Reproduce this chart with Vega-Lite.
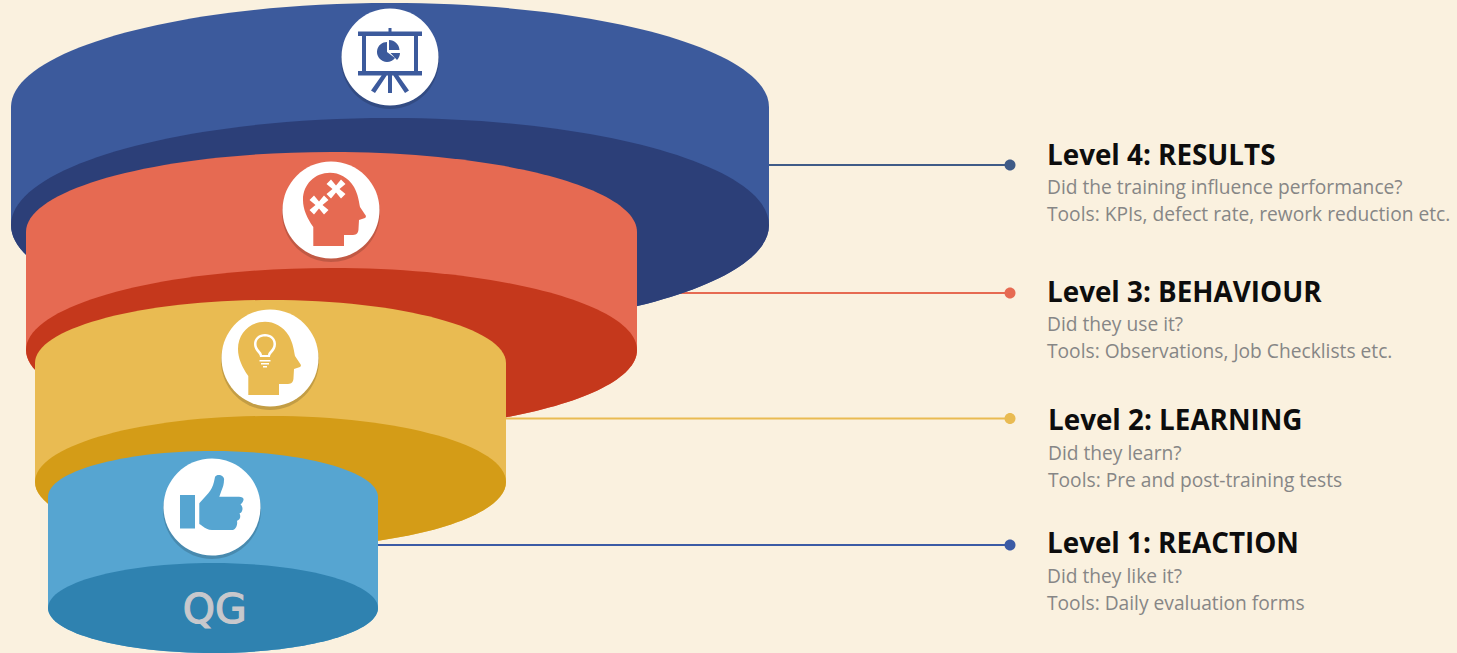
{
  "$schema": "https://vega.github.io/schema/vega-lite/v6.json",
  "width": 1457,
  "height": 653,
  "padding": 0,
  "autosize": {"type": "fit", "contains": "padding"},
  "background": "#faf1df",
  "config": {"view": {"stroke": null}},
  "datasets": {
    "connectors": [
      {"tone": "line results", "x": 760, "x2": 1010, "y": 165},
      {"tone": "behaviour", "x": 670, "x2": 1010, "y": 293},
      {"tone": "learning", "x": 500, "x2": 1010, "y": 418.5},
      {"tone": "line reaction", "x": 370, "x2": 1010, "y": 545}
    ],
    "pieces": [
      {"form": "dot", "tone": "line results", "x": 1010, "y": 165},
      {"form": "dot", "tone": "behaviour", "x": 1010, "y": 293},
      {"form": "dot", "tone": "learning", "x": 1010, "y": 418.5},
      {"form": "dot", "tone": "line reaction", "x": 1010, "y": 545},

      {"form": "results body", "tone": "results", "x": 390, "y": 107},
      {"form": "results base", "tone": "results dark", "x": 390, "y": 225},
      {"form": "disc shadow", "tone": "shadow", "x": 390, "y": 60},
      {"form": "disc", "tone": "white", "x": 390, "y": 57},
      {"form": "screen", "tone": "results", "x": 390, "y": 57},

      {"form": "behaviour body", "tone": "behaviour", "x": 331.5, "y": 232},
      {"form": "behaviour base", "tone": "behaviour dark", "x": 331.5, "y": 350},
      {"form": "disc shadow", "tone": "shadow", "x": 331, "y": 213},
      {"form": "disc", "tone": "white", "x": 331, "y": 210},
      {"form": "head", "tone": "behaviour", "x": 331, "y": 210},
      {"form": "puzzle", "tone": "white", "x": 319, "y": 205},
      {"form": "puzzle", "tone": "white", "x": 336, "y": 189},

      {"form": "learning body", "tone": "learning", "x": 270.5, "y": 363},
      {"form": "learning base", "tone": "learning dark", "x": 270.5, "y": 482},
      {"form": "disc shadow", "tone": "shadow", "x": 270, "y": 361},
      {"form": "disc", "tone": "white", "x": 270, "y": 358},
      {"form": "head", "tone": "learning", "x": 266, "y": 359},
      {"form": "bulb", "tone": "white", "x": 265, "y": 346},

      {"form": "reaction body", "tone": "reaction", "x": 213, "y": 497},
      {"form": "reaction base", "tone": "reaction dark", "x": 213, "y": 608},
      {"form": "disc shadow", "tone": "shadow", "x": 212, "y": 510},
      {"form": "disc", "tone": "white", "x": 212, "y": 507},
      {"form": "thumb", "tone": "reaction", "x": 212, "y": 507}
    ],
    "headings": [
      {"tone": "heading", "label": "Level 4: RESULTS", "x": 1047, "y": 164.5},
      {"tone": "heading", "label": "Level 3: BEHAVIOUR", "x": 1047, "y": 301.5},
      {"tone": "heading", "label": "Level 2: LEARNING", "x": 1048, "y": 430},
      {"tone": "heading", "label": "Level 1: REACTION", "x": 1047, "y": 553}
    ],
    "details": [
      {"tone": "detail", "label": "Did the training influence performance?", "x": 1047, "y": 194},
      {"tone": "detail", "label": "Tools: KPIs, defect rate, rework reduction etc.", "x": 1047, "y": 221},
      {"tone": "detail", "label": "Did they use it?", "x": 1047, "y": 331},
      {"tone": "detail", "label": "Tools: Observations, Job Checklists etc.", "x": 1047, "y": 358},
      {"tone": "detail", "label": "Did they learn?", "x": 1048, "y": 460},
      {"tone": "detail", "label": "Tools: Pre and post-training tests", "x": 1048, "y": 487},
      {"tone": "detail", "label": "Did they like it?", "x": 1047, "y": 583},
      {"tone": "detail", "label": "Tools: Daily evaluation forms", "x": 1047, "y": 610}
    ],
    "logo": [
      {"tone": "logo", "label": "Q", "x": 199, "y": 623},
      {"tone": "logo", "label": "G", "x": 231, "y": 623}
    ]
  },
  "encoding": {
    "x": {"field": "x", "type": "quantitative", "axis": null, "scale": {"domain": [0, 1457], "nice": false, "zero": false}},
    "y": {"field": "y", "type": "quantitative", "axis": null, "scale": {"domain": [0, 653], "reverse": true, "nice": false, "zero": false}},
    "color": {
      "field": "tone",
      "type": "nominal",
      "legend": null,
      "scale": {
        "domain": ["results", "results dark", "behaviour", "behaviour dark", "learning", "learning dark", "reaction", "reaction dark", "white", "shadow", "line results", "line reaction", "heading", "detail", "logo"],
        "range": ["#3c5a9c", "#2c3f78", "#e66a52", "#c5381c", "#e9bb52", "#d49c17", "#56a5d1", "#2f82b0", "#ffffff", "rgba(0,0,0,0.16)", "#3f5b87", "#3b5ba5", "#0d0d0d", "#868686", "#c8c8cc"]
      }
    }
  },
  "layer": [
    {
      "data": {"name": "connectors"},
      "mark": {"type": "rule", "strokeWidth": 2},
      "encoding": {"x2": {"field": "x2"}}
    },
    {
      "data": {"name": "pieces"},
      "mark": {"type": "point", "filled": true, "opacity": 1, "size": 4, "strokeWidth": 0},
      "encoding": {
        "shape": {
          "field": "form",
          "type": "nominal",
          "legend": null,
          "scale": {
            "domain": ["dot", "disc", "disc shadow", "results body", "results base", "behaviour body", "behaviour base", "learning body", "learning base", "reaction body", "reaction base", "screen", "head", "puzzle", "bulb", "thumb"],
            "range": [
              "M-5.5 0A5.5 5.5 0 1 1 5.5 0A5.5 5.5 0 1 1 -5.5 0Z",
              "M-48.5 0A48.5 48.5 0 1 1 48.5 0A48.5 48.5 0 1 1 -48.5 0Z",
              "M-49 0A49 49 0 1 1 49 0A49 49 0 1 1 -49 0Z",
              "M-379 0A379 104 0 0 1 379 0V118A379 107 0 0 1 -379 118Z",
              "M-379 0A379 107 0 0 1 379 0A379 107 0 0 1 -379 0Z",
              "M-305.5 0A305.5 80 0 0 1 305.5 0V118A305.5 82 0 0 1 -305.5 118Z",
              "M-305.5 0A305.5 82 0 0 1 305.5 0A305.5 82 0 0 1 -305.5 0Z",
              "M-235.5 0A235.5 63 0 0 1 235.5 0V119A235.5 66 0 0 1 -235.5 119Z",
              "M-235.5 0A235.5 66 0 0 1 235.5 0A235.5 66 0 0 1 -235.5 0Z",
              "M-165 0A165 46 0 0 1 165 0V111A165 45 0 0 1 -165 111Z",
              "M-165 0A165 45 0 0 1 165 0A165 45 0 0 1 -165 0Z",
              "M-32 -25.5H32V-21H-32ZM-1.5 -29H1.5V-25H-1.5ZM-28 -21H-24V14H-28ZM24 -21H28V14H24ZM-32 14H32V18.5H-32ZM-2 18H2V36H-2ZM-8 18H-3L-15 36L-19 33.5ZM3 18H8L19 33.5L15 36ZM-3 -5V-15A10 10 0 1 0 5 1ZM-1 -7V-17A10.5 10.5 0 0 1 9.5 -7ZM0.5 -4H10A10.5 10.5 0 0 1 7 3Z",
              "M-17.7 36H13V25H22C26 25 27.5 22 27.5 19C27.5 16 28 13 28 10L34 8C35.5 7 35 5.5 34 4.5L29 -3C28 -8 27 -16 23 -23C17 -33 8 -37.3 -1 -37.3C-16 -37.3 -28 -26 -28 -10C-28 -1 -24 8 -17.7 17Z",
              "M0 -3.5L5 -9.5L9.5 -5L3.5 0L9.5 5L5 9.5L0 3.5L-5 9.5L-9.5 5L-3.5 0L-9.5 -5L-5 -9.5Z",
              "M-5 11C-5 7 -11 5 -11 -2C-11 -8 -6 -12 0 -12C6 -12 11 -8 11 -2C11 5 5 7 5 11ZM-3 9H3C3 5.5 8.5 3.5 8.5 -2C8.5 -7 5 -9.5 0 -9.5C-5 -9.5 -8.5 -7 -8.5 -2C-8.5 3.5 -3 5.5 -3 9ZM-5.5 14H5.5V15.5H-5.5ZM-4 17H4V18.5H-4ZM-2 20H2V21.5H-2Z",
              "M-32 -12H-17V21.5H-32ZM-12.7 -3.7L-3.7 -13.7C-1 -17 1 -21 2 -25.3L3 -30C4 -32 6 -32.3 8 -32C11 -31 12.5 -29 12 -27C12 -23 11 -20 9.7 -17L7.3 -10.3H27C30 -10.3 32 -9 31.5 -7C31 -4.5 29.5 -3.5 28.5 -2.5C30.5 -1 31 2 30 4C29.5 5.5 28.5 6 27.5 6.5C28.5 8 28.5 10.5 27.5 12C26.5 13 25.5 13.5 25 14C25.5 16 25 19 23.5 21C22.5 22.5 21.5 23 20 23H0C-4 23 -7 21 -9 19.5C-10.5 18.5 -11.5 17.5 -12.7 17Z"
            ]
          }
        }
      }
    },
    {
      "data": {"name": "logo"},
      "mark": {"type": "text", "font": "DejaVu Sans", "fontSize": 41, "align": "center", "baseline": "alphabetic", "stroke": "#c8c8cc", "strokeWidth": 1.2},
      "encoding": {"text": {"field": "label"}}
    },
    {
      "data": {"name": "headings"},
      "mark": {"type": "text", "font": "Open Sans", "fontWeight": "bold", "fontSize": 27.8, "align": "left", "baseline": "alphabetic"},
      "encoding": {"text": {"field": "label"}}
    },
    {
      "data": {"name": "details"},
      "mark": {"type": "text", "font": "Open Sans", "fontSize": 19.2, "align": "left", "baseline": "alphabetic"},
      "encoding": {"text": {"field": "label"}}
    }
  ]
}
